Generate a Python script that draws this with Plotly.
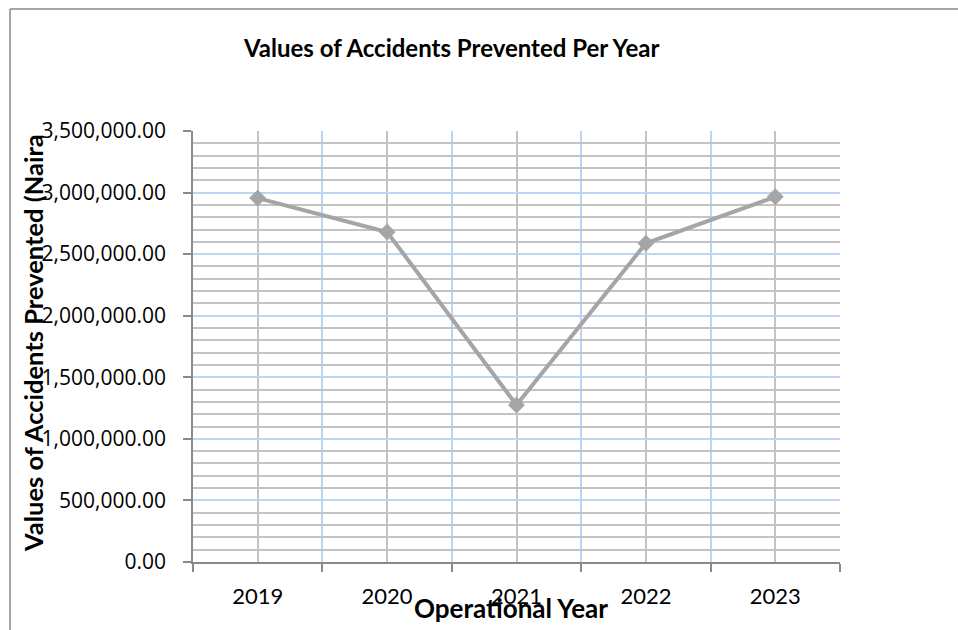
import plotly.graph_objects as go

# Operational years and the value of accidents prevented in each (Naira)
years = [2019, 2020, 2021, 2022, 2023]
values_prevented = [2955000, 2680000, 1275000, 2588000, 2966000]

chart_title = "Values of Accidents Prevented Per Year"
x_title = "Operational Year"
y_title = "Values of Accidents Prevented (Naira"

W, H = 958, 630
ML, MR, MT, MB = 193, 118, 131, 68
PW, PH = W - ML - MR, H - MT - MB


def px_x(p):
    return (p - ML) / PW


def px_y(p):
    return (H - MB - p) / PH


LINE_GREY = "#a5a5a5"
GRID_GREY = "#c3c3c3"
GRID_BLUE = "#bcd5f3"
AXIS_GREY = "#8a8a8a"

fig = go.Figure()
fig.add_trace(go.Scatter(
    x=years,
    y=values_prevented,
    mode="lines+markers",
    line=dict(color=LINE_GREY, width=4),
    marker=dict(symbol="diamond", size=13, color=LINE_GREY),
    cliponaxis=False,
    showlegend=False,
))

bounds = [y - 0.5 for y in years] + [years[-1] + 0.5]

fig.update_layout(
    width=W, height=H,
    margin=dict(l=ML, r=MR, t=MT, b=MB, pad=0),
    paper_bgcolor="white",
    plot_bgcolor="white",
    font=dict(family="Open Sans", color="black"),
    xaxis=dict(
        range=[years[0] - 0.5, years[-1] + 0.5],
        tickvals=years,
        ticktext=[str(y) for y in years],
        ticks="",
        showgrid=True, gridcolor=GRID_GREY, gridwidth=1.5,
        showline=True, linecolor=AXIS_GREY, linewidth=1.5,
        zeroline=False,
        tickfont=dict(family="Lato", size=22, color="black"),
        ticklabelstandoff=14,
        minor=dict(tickvals=bounds, ticks="outside", ticklen=8,
                   tickcolor=AXIS_GREY, tickwidth=1.5,
                   showgrid=True, gridcolor=GRID_BLUE, gridwidth=1.5),
        fixedrange=True,
    ),
    yaxis=dict(
        range=[0, 3500000],
        dtick=500000,
        tickformat=",.2f",
        ticks="outside", ticklen=8, tickcolor=AXIS_GREY, tickwidth=1.5,
        showgrid=True, gridcolor=GRID_BLUE, gridwidth=1.5,
        showline=True, linecolor=AXIS_GREY, linewidth=1.5,
        zeroline=False,
        tickfont=dict(family="Open Sans", size=21, color="black"),
        ticklabelstandoff=13,
        minor=dict(dtick=100000, showgrid=True, gridcolor=GRID_GREY,
                   gridwidth=1.5),
        fixedrange=True,
    ),
)

# chart frame
fig.add_shape(type="line", xref="paper", yref="paper",
              x0=px_x(10), x1=px_x(W + 5), y0=px_y(9), y1=px_y(9),
              line=dict(color="#a6a6a6", width=2))
fig.add_shape(type="line", xref="paper", yref="paper",
              x0=px_x(10), x1=px_x(10), y0=px_y(9), y1=px_y(H + 5),
              line=dict(color="#a6a6a6", width=2))

fig.add_annotation(text=chart_title, xref="paper", yref="paper",
                   x=px_x(451), y=px_y(48), showarrow=False,
                   xanchor="center", yanchor="middle",
                   font=dict(family="Lato", size=24, color="black", weight="bold"))
fig.add_annotation(text=x_title, xref="paper", yref="paper",
                   x=px_x(511), y=px_y(608), showarrow=False,
                   xanchor="center", yanchor="middle",
                   font=dict(family="Lato", size=26, color="black", weight="bold"))
fig.add_annotation(text=y_title, xref="paper", yref="paper",
                   x=px_x(33), y=px_y(554), showarrow=False, textangle=-90,
                   xanchor="center", yanchor="bottom",
                   font=dict(family="Lato", size=25.5, color="black", weight="bold"))

fig.write_html("out.html")
